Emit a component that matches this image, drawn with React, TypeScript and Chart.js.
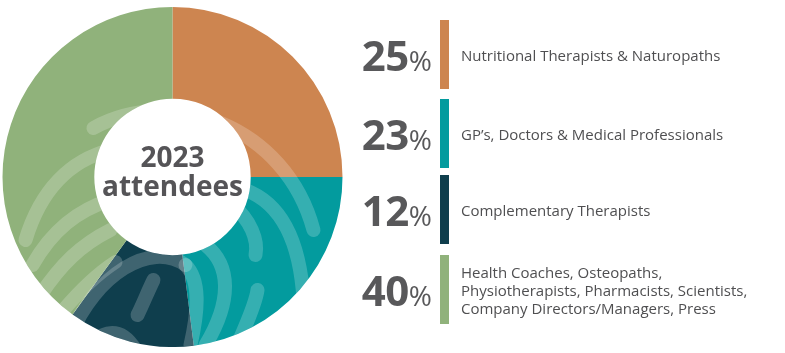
import React, { useEffect, useRef } from "react";
import { Chart, registerables } from "chart.js";

Chart.register(...registerables);

const categories = [
  "Nutritional Therapists & Naturopaths",
  "GP’s, Doctors & Medical Professionals",
  "Complementary Therapists",
  "Health Coaches, Osteopaths, Physiotherapists, Pharmacists, Scientists, Company Directors/Managers, Press",
];
const labelLines = [
  ["Nutritional Therapists & Naturopaths"],
  ["GP’s, Doctors & Medical Professionals"],
  ["Complementary Therapists"],
  ["Health Coaches, Osteopaths,", "Physiotherapists, Pharmacists, Scientists,", "Company Directors/Managers, Press"],
];
const values = [25, 23, 12, 40];
const colors = ["#CD8550", "#039B9E", "#0F3E4D", "#90B27B"];
const centerLines = ["2023", "attendees"];

// decorative fingerprint strokes (relative to centre, in units of a 170px outer radius)
const patternStrokes: number[][] = [
  [-79, -49, -2, -92, 113, -52, 141, 53],
  [73, 13, 113, 28, 128, 73, 131, 123],
  [60, 28, 78, 43, 86, 63, 83, 78],
  [85, 113, 83, 128, 73, 148, 65, 168],
  [33, 68, 58, 88, 60, 123, 33, 168],
  [-102, 158, -77, 98, -22, 63, 13, 88],
  [13, 88, 28, 103, 26, 133, 18, 168],
  [-19, 103, -24, 113, -30, 128, -35, 138],
  [-87, 173, -72, 153, -52, 148, -37, 173],
  [-147, 63, -132, 13, -102, -17, -62, -27],
  [-140, 88, -120, 53, -95, 33, -62, 23],
  [-132, 118, -112, 88, -92, 68, -62, 53],
  [-109, 133, -92, 113, -77, 98, -57, 85],
];

const centerTextPlugin = {
  id: "centerText",
  afterDatasetsDraw(chart: any) {
    const arc = chart.getDatasetMeta(0).data[0];
    if (!arc) return;
    const { x, y, outerRadius, innerRadius } = arc;
    const ctx = chart.ctx;
    const s = outerRadius / 170;
    // pattern
    ctx.save();
    ctx.beginPath();
    ctx.arc(x, y, outerRadius, 0, Math.PI * 2);
    ctx.arc(x, y, innerRadius, 0, Math.PI * 2, true);
    ctx.closePath();
    ctx.clip();
    ctx.strokeStyle = "rgba(255,255,255,0.2)";
    ctx.lineWidth = 14 * s;
    ctx.lineCap = "round";
    patternStrokes.forEach((p) => {
      ctx.beginPath();
      ctx.moveTo(x + p[0] * s, y + p[1] * s);
      ctx.bezierCurveTo(x + p[2] * s, y + p[3] * s, x + p[4] * s, y + p[5] * s, x + p[6] * s, y + p[7] * s);
      ctx.stroke();
    });
    ctx.restore();
    // centre text
    ctx.save();
    ctx.fillStyle = "#555457";
    ctx.font = "bold 28px 'Open Sans'";
    ctx.textAlign = "center";
    ctx.textBaseline = "alphabetic";
    ctx.fillText(centerLines[0], x, y - 10);
    ctx.fillText(centerLines[1], x, y + 19);
    ctx.restore();
  },
};

const rowTops = [20, 99, 175, 255];

export default function App() {
  const ref = useRef<HTMLCanvasElement>(null);
  useEffect(() => {
    if (!ref.current) return;
    const chart = new Chart(ref.current, {
      type: "doughnut",
      data: {
        labels: categories,
        datasets: [
          {
            data: values,
            backgroundColor: colors,
            borderWidth: 0,
          },
        ],
      },
      options: {
        animation: false,
        responsive: false,
        cutout: "46%",
        layout: { padding: 0 },
        plugins: { legend: { display: false }, tooltip: { enabled: false } },
      },
      plugins: [centerTextPlugin],
    });
    return () => chart.destroy();
  }, []);

  return (
    <div
      style={{
        position: "absolute",
        left: 0,
        top: 0,
        width: 785,
        height: 353,
        background: "#fff",
        fontFamily: "'Open Sans', sans-serif",
        color: "#505052",
      }}
    >
      <canvas ref={ref} width={341} height={340} style={{ position: "absolute", left: 2, top: 7, width: 341, height: 340 }} />
      {values.map((v, i) => (
        <div
          key={i}
          style={{
            position: "absolute",
            left: 340,
            top: rowTops[i],
            height: 69,
            width: 445,
            display: "flex",
            alignItems: "center",
          }}
        >
          <div style={{ width: 92, textAlign: "right", whiteSpace: "nowrap", color: "#58585A", lineHeight: 1 }}>
            <span style={{ fontSize: 42, fontWeight: 700, letterSpacing: -0.5 }}>{v}</span>
            <span style={{ fontSize: 28, fontWeight: 400 }}>%</span>
          </div>
          <div style={{ width: 9, height: 69, background: colors[i], marginLeft: 8 }} />
          <div style={{ marginLeft: 12, fontSize: 15, lineHeight: "18px", color: "#4F4F51", whiteSpace: "nowrap" }}>
            {labelLines[i].map((l, j) => (
              <div key={j}>{l}</div>
            ))}
          </div>
        </div>
      ))}
    </div>
  );
}
